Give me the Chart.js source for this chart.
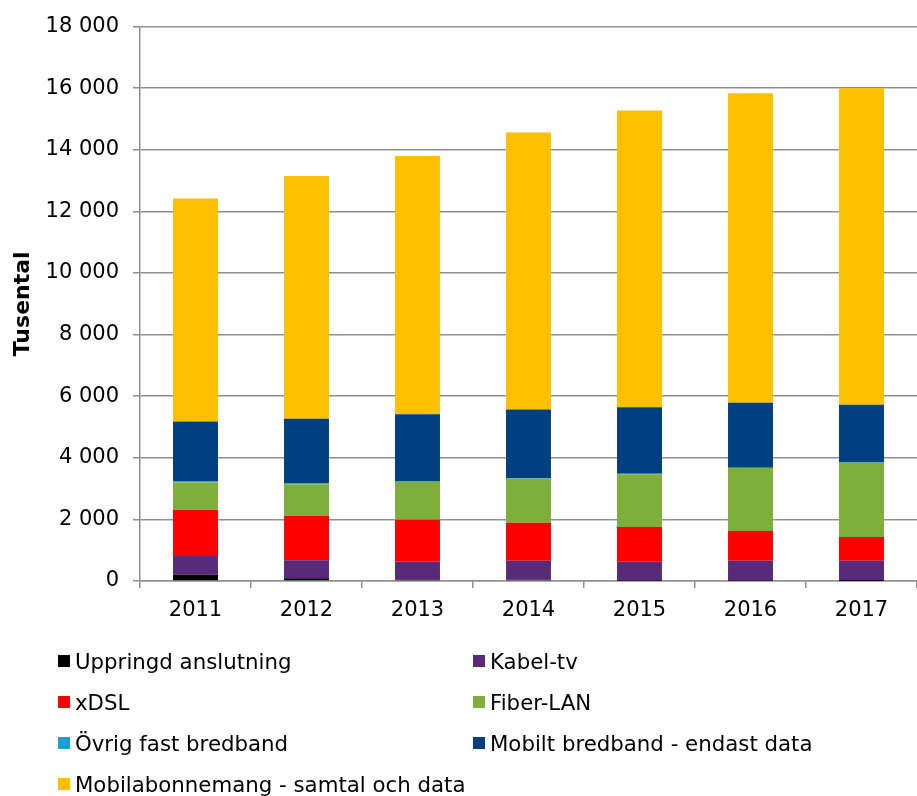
<!DOCTYPE html>
<html>
<head>
<meta charset="utf-8">
<script src="https://cdn.jsdelivr.net/npm/chart.js@4.4.1/dist/chart.umd.min.js"></script>
<style>
  html, body { margin: 0; padding: 0; background: #fff; }
  body { width: 917px; height: 796px; position: relative; overflow: hidden; font-family: "DejaVu Sans", Verdana, sans-serif; }
  #wrap { position: absolute; left: 0; top: 0; width: 917px; height: 640px; }
  #legend { position: absolute; left: 0; top: 0; width: 917px; height: 796px; pointer-events: none; }
  .item { position: absolute; height: 30px; display: flex; align-items: center; font-size: 21.3px; color: #000; white-space: nowrap; }
  .box { width: 12px; height: 12px; margin-right: 5px; flex: none; }
</style>
</head>
<body>
<div id="wrap"><canvas id="c"></canvas></div>
<div id="legend"></div>
<script>
const categories = ['2011', '2012', '2013', '2014', '2015', '2016', '2017'];

const seriesNames = [
  'Uppringd anslutning',
  'Kabel-tv',
  'xDSL',
  'Fiber-LAN',
  'Övrig fast bredband',
  'Mobilt bredband - endast data',
  'Mobilabonnemang - samtal och data'
];
const seriesColors = ['#000000', '#5a2a7a', '#ff0000', '#7eaf3a', '#1c9fd3', '#004080', '#ffc000'];

const uppringd       = [208, 87, 45, 40, 12, 6, 3];
const kabelTv        = [603, 584, 584, 621, 617, 655, 658];
const xdsl           = [1504, 1450, 1362, 1233, 1122, 960, 766];
const fiberLan       = [888, 1022, 1222, 1428, 1717, 2044, 2412];
const ovrigFast      = [30, 25, 20, 18, 15, 12, 10];
const mobiltBredband = [1946, 2098, 2183, 2228, 2160, 2108, 1871];
const mobilabonnemang = [7242, 7881, 8379, 8992, 9634, 10053, 10290];

const yTickValues = [0, 2000, 4000, 6000, 8000, 10000, 12000, 14000, 16000, 18000];
const yTitle = 'Tusental';

const seriesValues = [uppringd, kabelTv, xdsl, fiberLan, ovrigFast, mobiltBredband, mobilabonnemang];

const FONT = '"DejaVu Sans", Verdana, sans-serif';
const GRID = '#8f8f8f';

const datasets = seriesNames.map((name, i) => ({
  label: name,
  data: seriesValues[i],
  backgroundColor: seriesColors[i],
  borderWidth: 0,
  categoryPercentage: 1.0,
  barPercentage: 0.405
}));

function fmt(v) { return String(v).replace(/\B(?=(\d{3})+(?!\d))/g, ' '); }

const chart = new Chart(document.getElementById('c'), {
  type: 'bar',
  data: { labels: categories, datasets },
  options: {
    responsive: true,
    maintainAspectRatio: false,
    animation: false,
    layout: { padding: { top: 10, right: 0, bottom: 0, left: 0 } },
    plugins: { legend: { display: false }, tooltip: { enabled: false } },
    scales: {
      x: {
        stacked: true,
        offset: true,
        grid: { offset: true, drawOnChartArea: false, drawTicks: true, tickLength: 7, color: GRID, lineWidth: 1.5 },
        border: { color: GRID, width: 1.5 },
        ticks: { color: '#000', font: { family: FONT, size: 21 }, padding: 10, maxRotation: 0 },
        afterFit: s => { s.height = 59; }
      },
      y: {
        stacked: true,
        min: 0,
        max: 18000,
        afterBuildTicks: s => { s.ticks = yTickValues.map(v => ({ value: v })); },
        grid: { color: GRID, lineWidth: 1.5, tickLength: 7 },
        border: { color: GRID, width: 1.5 },
        ticks: { color: '#000', font: { family: FONT, size: 21 }, padding: 14, callback: v => fmt(v) },
        title: { display: true, text: yTitle, color: '#000', font: { family: FONT, size: 22, weight: 'bold' }, padding: { top: 10, bottom: 0 } },
        afterFit: s => { s.width = 140; }
      }
    }
  }
});

// HTML legend built from the chart's datasets (2 columns)
const legend = document.getElementById('legend');
const rowY = [646, 687, 728, 769];
const colX = [58, 473];
chart.data.datasets.forEach((ds, i) => {
  const el = document.createElement('div');
  el.className = 'item';
  el.style.left = colX[i % 2] + 'px';
  el.style.top = rowY[Math.floor(i / 2)] + 'px';
  const b = document.createElement('span');
  b.className = 'box';
  b.style.background = ds.backgroundColor;
  const t = document.createElement('span');
  t.textContent = ds.label;
  el.appendChild(b); el.appendChild(t);
  legend.appendChild(el);
});
</script>
</body>
</html>
